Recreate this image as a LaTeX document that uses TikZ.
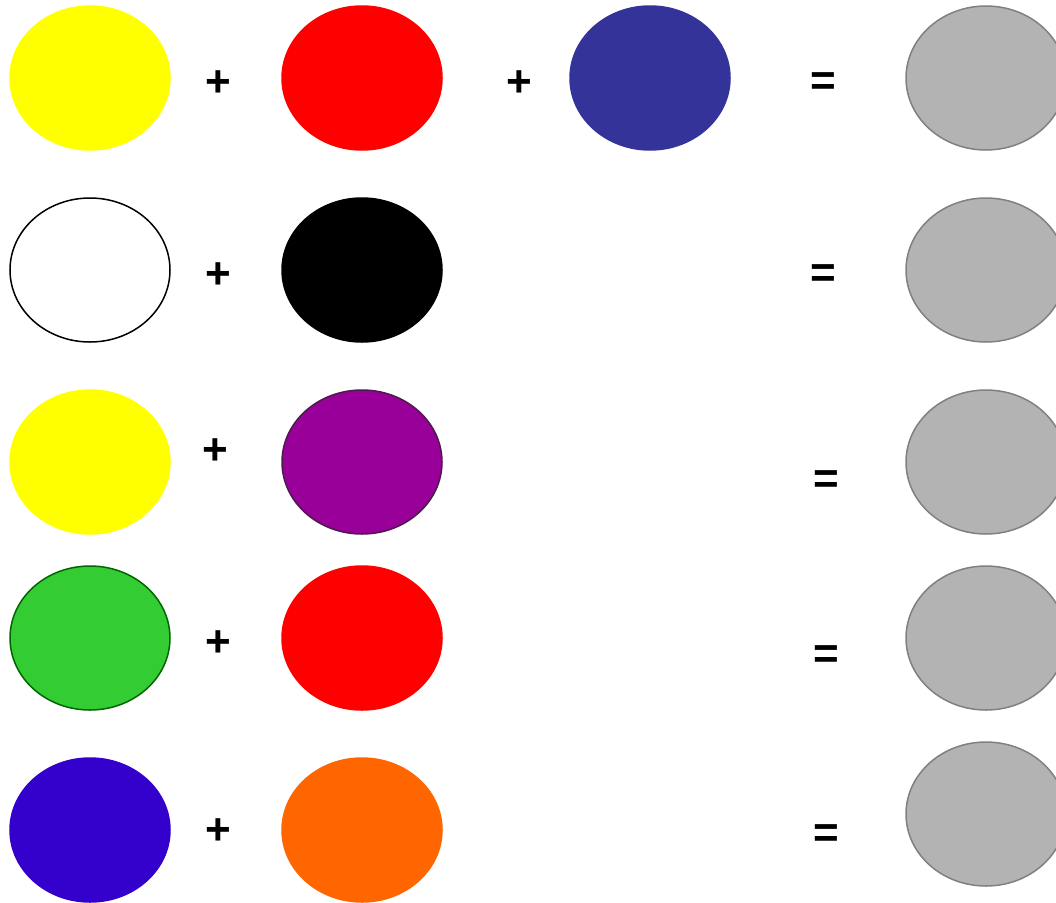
\documentclass[tikz,border=0pt]{standalone}
\usepackage{fontspec}
\setmainfont{Liberation Sans}
\usetikzlibrary{shapes.geometric}
\definecolor{cyellow}{RGB}{255,255,0}
\definecolor{cred}{RGB}{255,0,0}
\definecolor{cblue}{HTML}{333399}
\definecolor{cpurple}{HTML}{990099}
\definecolor{cpurpleb}{HTML}{4D1A4D}
\definecolor{cgreen}{HTML}{33CC33}
\definecolor{cgreenb}{HTML}{006600}
\definecolor{corange}{HTML}{FF6600}
\definecolor{cindigo}{HTML}{3300CC}
\definecolor{cgray}{HTML}{B3B3B3}
\definecolor{cgrayb}{HTML}{808080}
\tikzset{
  blob/.style={ellipse, minimum width=160pt, minimum height=144pt, inner sep=0pt, line width=1.5pt},
  sym/.style={font=\fontsize{44}{44}\selectfont\bfseries, inner sep=0pt},
  result/.style={blob, fill=cgray, draw=cgrayb}
}
\begin{document}
\begin{tikzpicture}[x=1pt,y=-1pt]
\useasboundingbox (0,0) rectangle (1056,902);
\clip (0,0) rectangle (1056,902);
% row 1
\node[blob, fill=cyellow, draw=cyellow] (y1) at (90,78) {};
\node[sym] (p1a) at (218,84) {+};
\node[blob, fill=cred, draw=cred] (r1) at (362,78) {};
\node[sym] (p1b) at (519,84) {+};
\node[blob, fill=cblue, draw=cblue] (b1) at (650,78) {};
\node[sym] (e1) at (823,84) {=};
\node[result] (g1) at (986,78) {};
% row 2
\node[blob, fill=white, draw=black] (w2) at (90,270) {};
\node[sym] (p2) at (218,276) {+};
\node[blob, fill=black, draw=black] (k2) at (362,270) {};
\node[sym] (e2) at (823,276) {=};
\node[result] (g2) at (986,270) {};
% row 3
\node[blob, fill=cyellow, draw=cyellow] (y3) at (90,462) {};
\node[sym] (p3) at (215,452) {+};
\node[blob, fill=cpurple, draw=cpurpleb] (v3) at (362,462) {};
\node[sym] (e3) at (826,482) {=};
\node[result] (g3) at (986,462) {};
% row 4
\node[blob, fill=cgreen, draw=cgreenb] (gr4) at (90,638) {};
\node[sym] (p4) at (218,644) {+};
\node[blob, fill=cred, draw=cred] (r4) at (362,638) {};
\node[sym] (e4) at (826,657) {=};
\node[result] (g4) at (986,638) {};
% row 5
\node[blob, fill=cindigo, draw=cindigo] (i5) at (90,830) {};
\node[sym] (p5) at (218,832) {+};
\node[blob, fill=corange, draw=corange] (o5) at (362,830) {};
\node[sym] (e5) at (826,836) {=};
\node[result] (g5) at (986,814) {};
\end{tikzpicture}
\end{document}
